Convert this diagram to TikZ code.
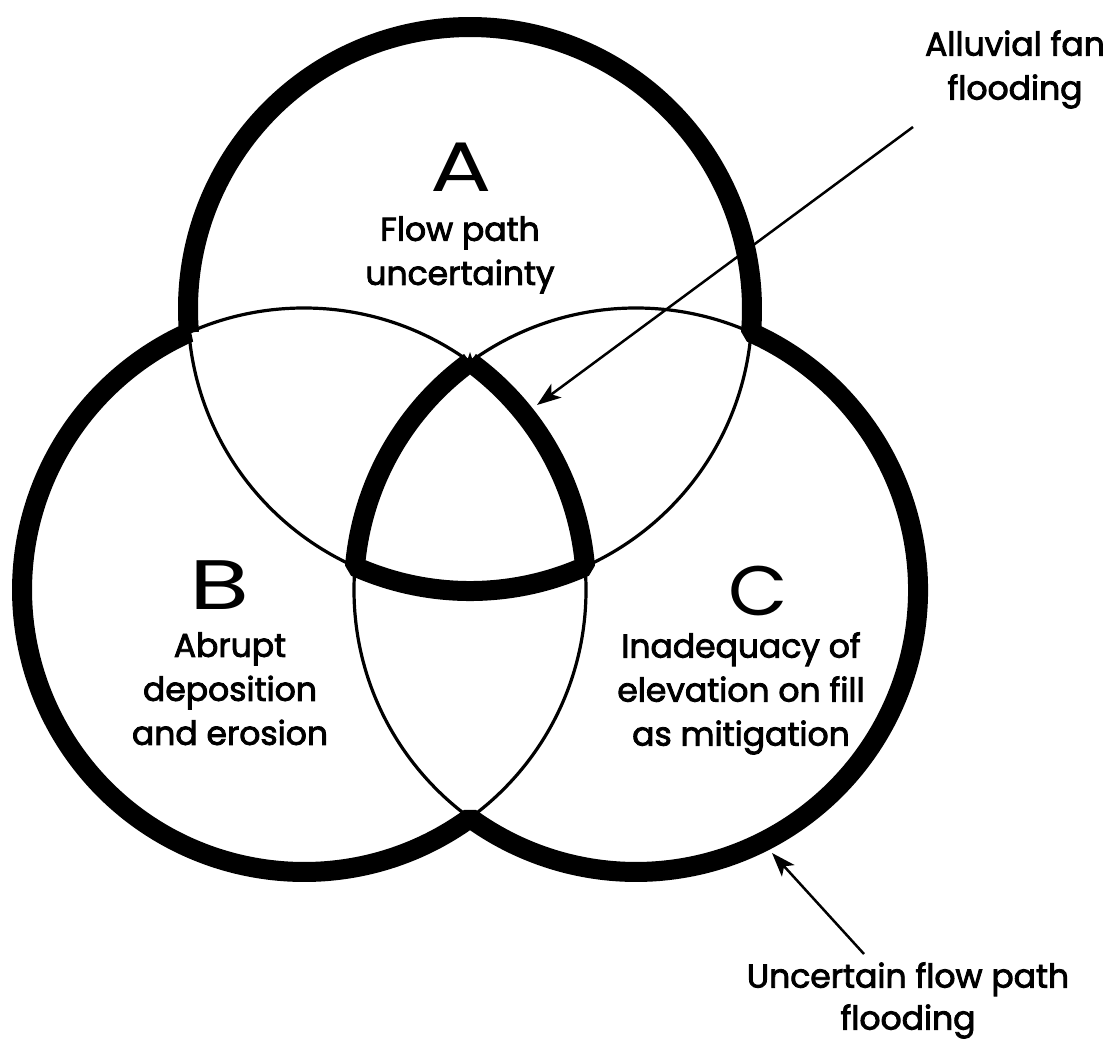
\documentclass[tikz,border=0pt]{standalone}
\usepackage{graphicx}
\usepackage{fontspec}
\setmainfont{Poppins}[FakeBold=2.6]
\newfontfamily\letterfont{Poppins}
\usetikzlibrary{arrows.meta}
\begin{document}
\begin{tikzpicture}[x=0.5pt,y=0.5pt,
  thinring/.style={line width=1.6pt},
  thickline/.style={line width=10pt, line join=bevel},
  pointer/.style={line width=1.25pt, -{Stealth[length=12pt,width=8.5pt,inset=3pt]}},
  bigletter/.style={inner sep=0pt, font=\letterfont\fontsize{35}{35}\selectfont},
  caption/.style={align=center, inner sep=0pt, font=\fontsize{16.5}{22}\selectfont}]
\useasboundingbox (0,0) rectangle (1112,1046);
\def\R{282}
% circle centres
\coordinate (cA) at (470,737);
\coordinate (cB) at (304,456);
\coordinate (cC) at (636,456);
% thin full circles
\draw[thinring] (cA) circle[radius=\R];
\draw[thinring] (cB) circle[radius=\R];
\draw[thinring] (cC) circle[radius=\R];
% heavy outline of the union of the three sets
\draw[thickline] ([shift={(184.78:\R)}]cA)
  arc[start angle=184.78, end angle=-4.78, radius=\R]
  arc[start angle=65.93, end angle=-126.06, radius=\R]
  arc[start angle=306.06, end angle=114.07, radius=\R] -- cycle;
% heavy outline of the region common to all three
\draw[thickline] ([shift={(126.06:\R)}]cC)
  arc[start angle=126.06, end angle=175.22, radius=\R]
  arc[start angle=-114.07, end angle=-65.93, radius=\R]
  arc[start angle=4.78, end angle=53.94, radius=\R] -- cycle;
% set letters and descriptions
\node[bigletter] (letA) at (461,879) {\scalebox{1.3}[1]{A}};
\node[bigletter] (letB) at (220,461) {\scalebox{1.4}[1]{B}};
\node[bigletter] (letC) at (758,455) {\scalebox{1.1}[1]{C}};
\node[caption, anchor=north] (txtA) at (460,830) {Flow path\\uncertainty};
\node[caption, anchor=north] (txtB) at (230,414) {Abrupt\\deposition\\and erosion};
\node[caption, anchor=north] (txtC) at (741,414) {Inadequacy of\\elevation on fill\\as mitigation};
% outside labels with pointers
\node[caption, anchor=north] (lblFan) at (1015,1016) {Alluvial fan\\flooding};
\node[caption, anchor=north, font=\fontsize{16.5}{21}\selectfont] (lblPath) at (908,84) {Uncertain flow path\\flooding};
\coordinate (fanTail) at (913,919);
\coordinate (fanTip) at (537,641);
\coordinate (pathTail) at (864,92);
\coordinate (pathTip) at (772,193);
\draw[pointer] (fanTail) -- (fanTip);
\draw[pointer] (pathTail) -- (pathTip);
\end{tikzpicture}
\end{document}
